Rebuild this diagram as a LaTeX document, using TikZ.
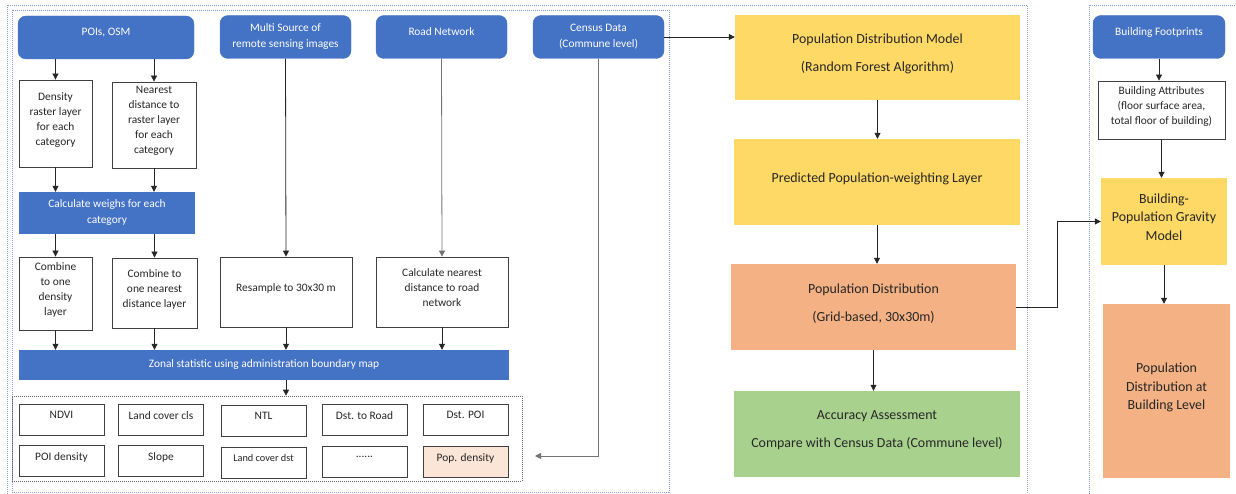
\documentclass[tikz,border=0pt]{standalone}
\usepackage{fontspec}
\setmainfont{Carlito}
\usepackage{tikz}
\usetikzlibrary{arrows.meta,positioning}

\definecolor{inblue}{HTML}{4472C4}
\definecolor{myellow}{HTML}{FFD966}
\definecolor{msalmon}{HTML}{F4B183}
\definecolor{mgreen}{HTML}{A9D18E}
\definecolor{peach}{HTML}{FBE5D6}
\definecolor{framebl}{HTML}{7F9FD6}

\begin{document}
\begin{tikzpicture}[
    x=1pt, y=-1pt,
    >={Triangle[length=6pt,width=6pt]},
    wh/.style 2 args={minimum width=#1pt, minimum height=#2pt},
    toptext/.style={text depth=11.5pt},
    source/.style={rectangle, rounded corners=8pt, draw=inblue, fill=inblue, text=white, align=center, inner sep=2pt, font=\fontsize{11.4}{16}\selectfont},
    bar/.style={rectangle, fill=inblue, text=white, align=center, inner sep=2pt, font=\fontsize{11.4}{16}\selectfont},
    proc/.style={rectangle, draw=black!75, line width=0.8pt, fill=white, text=black!85, align=center, inner sep=2pt, text depth=9.5pt, font=\fontsize{11.4}{15}\selectfont},
    cell/.style={proc, minimum width=85pt, minimum height=31pt},
    model/.style={rectangle, text=black!85, align=center, inner sep=2pt, text depth=9pt, font=\fontsize{13.9}{17}\selectfont},
    gridfr/.style={rectangle, draw=black!60, line width=0.7pt, dash pattern=on 1pt off 1pt},
    frame/.style={draw=framebl, line width=0.7pt, dash pattern=on 1pt off 1pt},
    arco/.style={->, black!85, line width=0.8pt},
    scale=1.0
]
\path[use as bounding box] (0,0) rectangle (1236,494);
\clip (0,0) rectangle (1236,494);
% ---------- frames ----------
\draw[frame] (7,5) rectangle (1027,510);
\draw[frame] (12,10) rectangle (669,492);
\draw[frame] (1089,5) rectangle (1250,510);
% ---------- inputs ----------
\node[source, wh={176}{43}, toptext] (poi)    at (106,37.5) {POIs, OSM};
\node[source, wh={131}{43}]          (msrc)   at (285.5,37) {Multi Source of\\remote sensing images};
\node[source, wh={131}{43}, toptext] (road)   at (441.5,37) {Road Network};
\node[source, wh={131}{43}]          (census) at (598.5,37) {Census Data\\(Commune level)};
% ---------- preprocessing ----------
\node[proc, wh={73}{87}]   (dens)     at (55.5,123.5) {Density\\raster layer\\for each\\category};
\node[proc, wh={84}{86}]   (near)     at (154,125) {Nearest\\distance to\\raster layer\\for each\\category};
\node[bar,  wh={176}{42}]  (weigh)    at (107,213) {Calculate weighs for each\\category};
\node[proc, wh={73}{73}]   (comb1)    at (55.5,293.5) {Combine\\to one\\density\\layer};
\node[proc, wh={85}{70}]   (comb2)    at (154.5,293) {Combine to\\one nearest\\distance layer};
\node[proc, wh={132}{70}]  (resamp)   at (286,292) {Resample to 30x30 m};
\node[proc, wh={132}{70}]  (calcnear) at (442,292) {Calculate nearest\\distance to road\\network};
\node[bar,  wh={490}{30}]  (zonal)    at (264,365) {Zonal statistic using administration boundary map};
% ---------- variables ----------
\node[gridfr, wh={510}{85}] (gridbox) at (267,438.5) {};
\node[cell] (ndvi)  at (61.5,420) {NDVI};
\node[cell] (lcc)   at (161,420) {Land cover cls};
\node[cell] (ntl)   at (263.5,421) {NTL};
\node[cell] (droad) at (364.5,420) {Dst. to Road};
\node[cell] (dpoi)  at (465.5,420) {Dst. POI};
\node[cell] (poid)  at (61.5,461) {POI density};
\node[cell] (slope) at (161,461) {Slope};
\node[cell, font=\fontsize{10.3}{12}\selectfont] (lcd) at (263.5,463) {Land cover dst};
\node[cell] (etc)   at (364.5,462) {......};
\node[cell, fill=peach] (popd) at (465.5,462) {Pop. density};
\coordinate (gridin) at (535,456);
% ---------- model ----------
\node[model, fill=myellow, wh={285}{85}] (pdm)   at (877.5,57.5) {Population Distribution Model\\[11pt](Random Forest Algorithm)};
\node[model, fill=myellow, wh={286}{86}] (pred)  at (877,182) {Predicted Population-weighting Layer};
\node[model, fill=msalmon, wh={285}{86}] (pdist) at (873.5,307) {Population Distribution\\[11pt](Grid-based, 30x30m)};
\node[model, fill=mgreen, wh={286}{86}]  (acc)   at (877,434) {Accuracy Assessment\\[11pt]Compare with Census Data (Commune level)};
% ---------- building level ----------
\node[source, wh={132}{43}, toptext] (bfoot) at (1159,37) {Building Footprints};
\node[proc, wh={127}{58}] (battr) at (1161.5,110) {Building Attributes\\(floor surface area,\\total floor of building)};
\node[model, fill=myellow, wh={126}{87}, font=\fontsize{13.9}{18.5}\selectfont] (grav) at (1164,221.5) {Building-\\Population Gravity\\Model};
\node[model, fill=msalmon, wh={127}{174}, font=\fontsize{13.9}{18.5}\selectfont] (pbld) at (1166.5,391) {Population\\Distribution at\\Building Level};
% ---------- connectors ----------
\draw[arco] (dens.north |- poi.south) -- (dens.north);
\draw[arco] (near.north |- poi.south) -- (near.north);
\draw[arco] (dens.south) -- (dens.south |- weigh.north);
\draw[arco] (near.south) -- (near.south |- weigh.north);
\draw[arco] (comb1.north |- weigh.south) -- (comb1.north);
\draw[arco] (comb2.north |- weigh.south) -- (comb2.north);
\draw[arco] (msrc.south) -- (resamp.north);
\draw[arco, black!55] (road.south) -- (calcnear.north);
\draw[arco] (comb1.south) -- (comb1.south |- zonal.north);
\draw[arco] (comb2.south) -- (comb2.south |- zonal.north);
\draw[arco] (resamp.south) -- (resamp.south |- zonal.north);
\draw[arco] (calcnear.south) -- (calcnear.south |- zonal.north);
\draw[arco] (resamp.south |- zonal.south) -- (resamp.south |- gridbox.north);
\draw[arco, black!55] (census.south) |- (gridin);
\draw[arco] (census.east) -- (census.east -| pdm.west);
\draw[arco] (pdm.south) -- (pdm.south |- pred.north);
\draw[arco] (pred.south) -- (pred.south |- pdist.north);
\draw[arco] (pdist.south) -- (pdist.south |- acc.north);
\draw[arco] (pdist.east) -- ++(41,0) |- (grav.west);
\draw[arco] (bfoot.south) -- (bfoot.south |- battr.north);
\draw[arco] (battr.south) -- (battr.south |- grav.north);
\draw[arco] (grav.south) -- (grav.south |- pbld.north);
\end{tikzpicture}
\end{document}
